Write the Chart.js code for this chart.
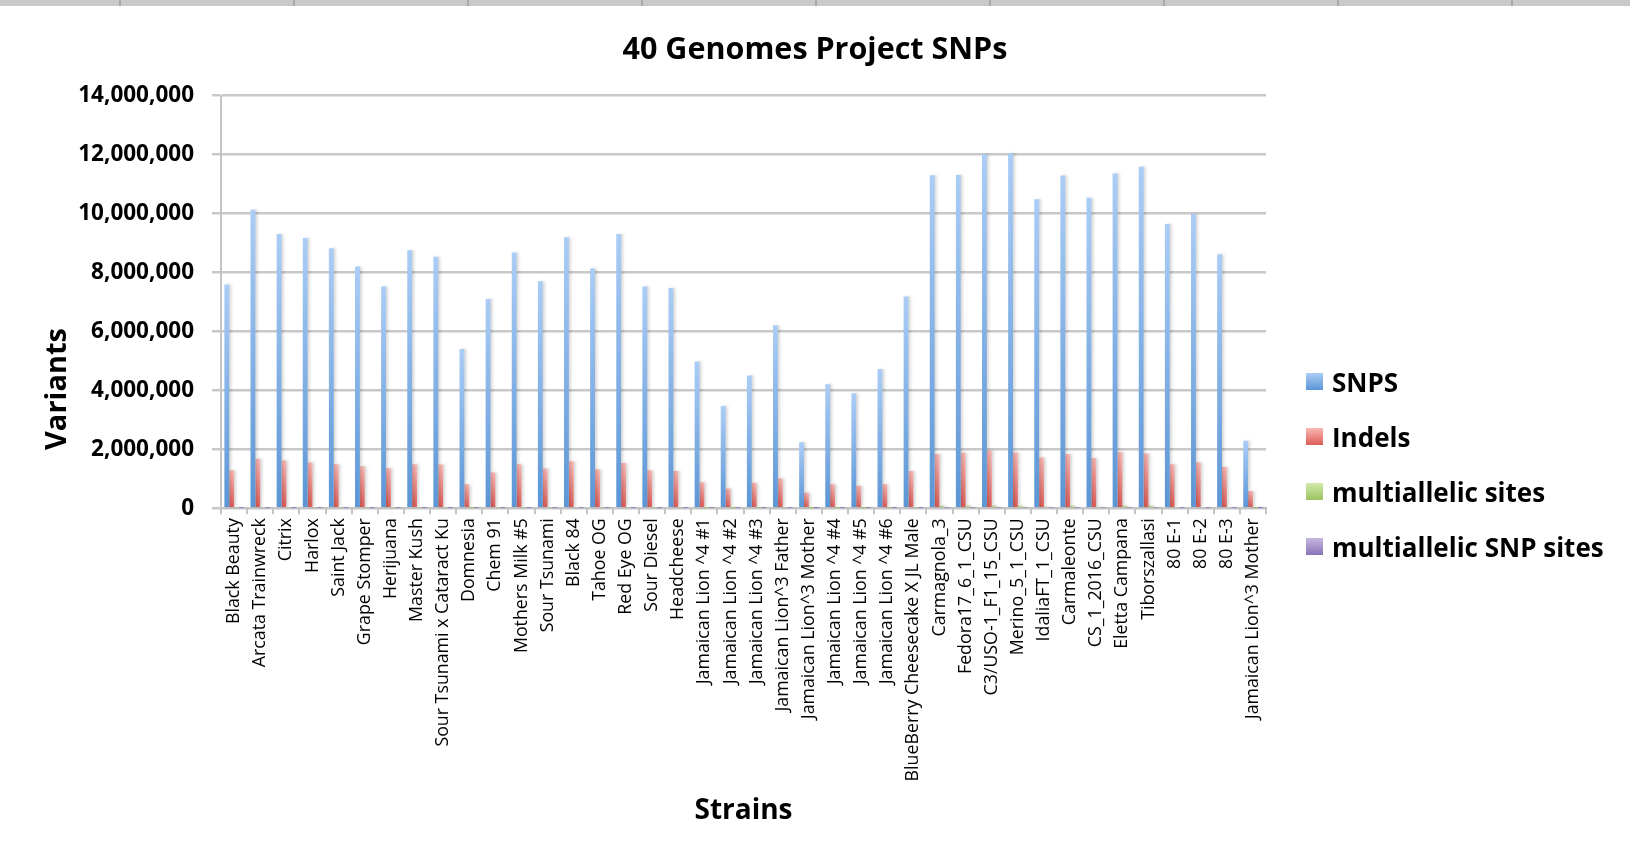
<!DOCTYPE html>
<html>
<head>
<meta charset="utf-8">
<title>40 Genomes Project SNPs</title>
<script src="https://cdn.jsdelivr.net/npm/chart.js@4.4.0/dist/chart.umd.min.js"></script>
<style>
    html, body { margin: 0; padding: 0; background: #fff; }
    #wrap { position: relative; width: 1630px; height: 852px; }
    #ruler {
        position: absolute; left: 0; top: 0; width: 1630px; height: 6px;
        background: repeating-linear-gradient(90deg, #c9c9c9 0 119px, #a8a8a8 119px 121px, #c9c9c9 121px 174px);
    }
</style>
</head>
<body>
<div id="wrap">
    <canvas id="chart" width="1630" height="852"></canvas>
    <div id="ruler"></div>
</div>
<script>
/* ── Data ──────────────────────────────────────────────────── */
const STRAINS = [
    'Black Beauty', 'Arcata Trainwreck', 'Citrix', 'Harlox', 'Saint Jack',
    'Grape Stomper', 'Herijuana', 'Master Kush', 'Sour Tsunami x Cataract Ku', 'Domnesia',
    'Chem 91', 'Mothers Milk #5', 'Sour Tsunami', 'Black 84', 'Tahoe OG',
    'Red Eye OG', 'Sour Diesel', 'Headcheese', 'Jamaican Lion ^4 #1', 'Jamaican Lion ^4 #2',
    'Jamaican Lion ^4 #3', 'Jamaican Lion^3 Father', 'Jamaican Lion^3 Mother', 'Jamaican Lion ^4 #4', 'Jamaican Lion ^4 #5',
    'Jamaican Lion ^4 #6', 'BlueBerry Cheesecake X JL Male', 'Carmagnola_3', 'Fedora17_6_1_CSU', 'C3/USO-1_F1_15_CSU',
    'Merino_5_1_CSU', 'IdaliaFT_1_CSU', 'Carmaleonte', 'CS_1_2016_CSU', 'Eletta Campana',
    'Tiborszallasi', '80 E-1', '80 E-2', '80 E-3', 'Jamaican Lion^3 Mother',
];

const SNPS = [
    7590000, 10130000, 9300000, 9170000, 8820000,
    8200000, 7520000, 8750000, 8530000, 5400000,
    7100000, 8680000, 7700000, 9190000, 8130000,
    9300000, 7520000, 7470000, 4980000, 3470000,
    4500000, 6210000, 2240000, 4210000, 3900000,
    4720000, 7180000, 11300000, 11310000, 12020000,
    12040000, 10480000, 11290000, 10530000, 11360000,
    11590000, 9640000, 9980000, 8620000, 2290000,
];

const INDELS = [
    1290000, 1680000, 1620000, 1550000, 1490000,
    1420000, 1360000, 1490000, 1480000, 810000,
    1210000, 1490000, 1350000, 1590000, 1320000,
    1530000, 1290000, 1260000, 880000, 670000,
    860000, 1010000, 530000, 810000, 760000,
    810000, 1260000, 1840000, 1880000, 1970000,
    1890000, 1720000, 1840000, 1700000, 1910000,
    1860000, 1490000, 1560000, 1400000, 580000,
];

const MULTI_SITES = [
    30000, 40000, 30000, 30000, 30000,
    30000, 30000, 30000, 30000, 20000,
    30000, 30000, 30000, 40000, 30000,
    30000, 30000, 30000, 20000, 20000,
    20000, 30000, 10000, 20000, 20000,
    20000, 30000, 90000, 90000, 90000,
    90000, 60000, 90000, 60000, 90000,
    90000, 40000, 40000, 40000, 10000,
];

const MULTI_SNP_SITES = [
    20000, 20000, 20000, 20000, 20000,
    20000, 20000, 20000, 20000, 15000,
    20000, 20000, 20000, 20000, 20000,
    20000, 20000, 20000, 15000, 15000,
    15000, 20000, 10000, 15000, 15000,
    15000, 20000, 25000, 25000, 25000,
    25000, 25000, 25000, 25000, 25000,
    25000, 20000, 20000, 20000, 10000,
];

const Y_MAX  = 14000000;
const Y_STEP = 2000000;

/* ── Styles ────────────────────────────────────────────────── */
const FONT = "'Open Sans', 'Noto Sans', sans-serif";

// [top colour, bottom colour] of each bar's vertical gradient
const SHADES = {
    snps   : ['#abcdf6', '#5b95d5'],
    indels : ['#fbb8b4', '#dc5c58'],
    multi  : ['#d3e9ad', '#9cc35f'],
    multi2 : ['#c7b8e0', '#8a73b8'],
};

function barGradient(shade) {
    return function (ctx) {
        const chart = ctx.chart;
        if (!chart.chartArea || ctx.raw == null) return shade[1];
        const y   = chart.scales.y;
        const top = y.getPixelForValue(ctx.raw);
        const bot = y.getPixelForValue(0);
        if (!isFinite(top) || Math.abs(bot - top) < 1) return shade[1];
        const g = chart.ctx.createLinearGradient(0, top, 0, bot);
        g.addColorStop(0, shade[0]);
        g.addColorStop(1, shade[1]);
        return g;
    };
}

// soft grey shadow to the right of the bars, like the spreadsheet render
const barShadow = {
    id: 'barShadow',
    beforeDatasetsDraw(chart) {
        const c = chart.ctx;
        c.save();
        c.shadowColor   = 'rgba(0,0,0,0.16)';
        c.shadowBlur    = 3;
        c.shadowOffsetX = 2;
        c.shadowOffsetY = 0;
    },
    afterDatasetsDraw(chart) {
        chart.ctx.restore();
    },
};

// y title sits below the plot middle and the legend sits low on the right,
// so both are drawn here instead of by the built-in title / legend
const sideLabels = {
    id: 'sideLabels',
    afterDraw(chart) {
        const c = chart.ctx;

        c.save();
        c.translate(58, 389);
        c.rotate(-Math.PI / 2);
        c.font         = 'bold 29px ' + FONT;
        c.fillStyle    = '#000';
        c.textAlign    = 'center';
        c.textBaseline = 'middle';
        c.fillText('Variants', 0, 0);
        c.restore();

        c.save();
        c.font         = 'bold 26px ' + FONT;
        c.textAlign    = 'left';
        c.textBaseline = 'alphabetic';
        chart.data.datasets.forEach(function (ds, i) {
            const cy = 383 + i * 55;
            const g  = c.createLinearGradient(0, cy - 10, 0, cy + 7);
            g.addColorStop(0, ds.legendColor[0]);
            g.addColorStop(1, ds.legendColor[1]);
            c.fillStyle = g;
            c.fillRect(1306, cy - 10, 17, 17);
            c.fillStyle = '#000';
            c.fillText(ds.label, 1332, cy + 9);
        });
        c.restore();
    },
};

function dataset(label, data, shade) {
    return {
        label              : label,
        data               : data,
        backgroundColor    : barGradient(shade),
        legendColor        : shade,
        borderWidth        : 0,
        categoryPercentage : 0.74,
        barPercentage      : 1.0,
    };
}

new Chart(document.getElementById('chart'), {
    type : 'bar',
    data : {
        labels   : STRAINS,
        datasets : [
            dataset('SNPS', SNPS, SHADES.snps),
            dataset('Indels', INDELS, SHADES.indels),
            dataset('multiallelic sites', MULTI_SITES, SHADES.multi),
            dataset('multiallelic SNP sites', MULTI_SNP_SITES, SHADES.multi2),
        ],
    },
    plugins : [barShadow, sideLabels],
    options : {
        responsive       : false,
        animation        : false,
        devicePixelRatio : 1,
        layout : { padding: { left: 36, right: 36, top: 0, bottom: 24 } },
        plugins : {
            title : {
                display : true,
                text    : '40 Genomes Project SNPs',
                color   : '#000',
                font    : { family: FONT, size: 30.5, weight: 'bold' },
                padding : { top: 32, bottom: 27 },
            },
            legend  : { display: false },
            tooltip : { enabled: false },
        },
        scales : {
            x : {
                offset : true,
                grid   : {
                    offset          : true,
                    drawOnChartArea : false,
                    drawTicks       : true,
                    tickLength      : 6,
                    color           : '#c4c4c4',
                    lineWidth       : 2,
                },
                border : { color: '#c4c4c4', width: 2 },
                ticks  : {
                    autoSkip    : false,
                    maxRotation : 90,
                    minRotation : 90,
                    padding     : 4,
                    color       : '#000',
                    font        : { family: FONT, size: 17.8 },
                },
                title : {
                    display : true,
                    text    : 'Strains',
                    color   : '#000',
                    font    : { family: FONT, size: 28, weight: 'bold' },
                    padding : { top: 9, bottom: 0 },
                },
            },
            y : {
                min  : 0,
                max  : Y_MAX,
                afterFit(scale) { scale.width = 185; },
                grid : {
                    color      : '#c8c8c8',
                    lineWidth  : 2.5,
                    tickLength : 9,
                },
                border : { color: '#c4c4c4', width: 2 },
                ticks  : {
                    stepSize : Y_STEP,
                    padding  : 18,
                    color    : '#000',
                    font     : { family: FONT, size: 22.5, weight: 'bold' },
                    callback : function (v) { return v.toLocaleString('en-US'); },
                },
            },
            // empty axis that only keeps room for the legend on the right
            legendRoom : {
                type     : 'linear',
                position : 'right',
                afterFit(scale) { scale.width = 328; },
                grid     : { display: false },
                border   : { display: false },
                ticks    : { display: false },
            },
        },
    },
});
</script>
</body>
</html>
